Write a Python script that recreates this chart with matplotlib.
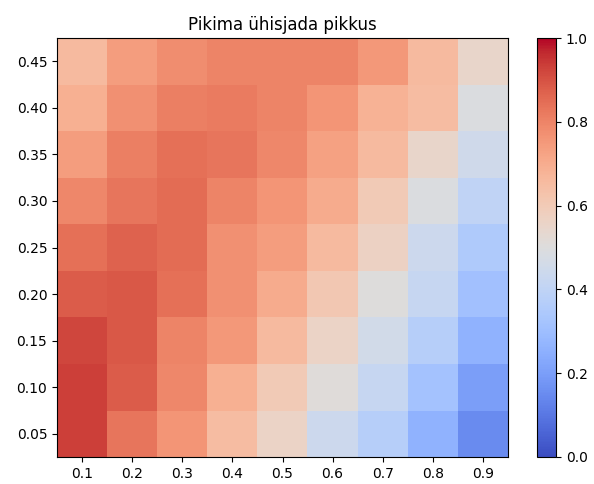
import numpy as np
import matplotlib
matplotlib.use("Agg")
import matplotlib.pyplot as plt

# x: first parameter, y: second parameter
x_values = [0.1, 0.2, 0.3, 0.4, 0.5, 0.6, 0.7, 0.8, 0.9]
y_values = [0.05, 0.10, 0.15, 0.20, 0.25, 0.30, 0.35, 0.40, 0.45]

# rows go from y=0.05 (bottom) to y=0.45 (top)
row_005 = [0.93, 0.83, 0.76, 0.65, 0.56, 0.44, 0.37, 0.26, 0.15]
row_010 = [0.93, 0.88, 0.79, 0.69, 0.60, 0.51, 0.42, 0.32, 0.20]
row_015 = [0.92, 0.89, 0.80, 0.75, 0.66, 0.56, 0.46, 0.37, 0.26]
row_020 = [0.88, 0.89, 0.84, 0.77, 0.70, 0.61, 0.50, 0.42, 0.31]
row_025 = [0.84, 0.87, 0.85, 0.77, 0.74, 0.66, 0.57, 0.44, 0.35]
row_030 = [0.79, 0.83, 0.85, 0.80, 0.76, 0.70, 0.60, 0.49, 0.40]
row_035 = [0.74, 0.81, 0.84, 0.83, 0.79, 0.73, 0.66, 0.55, 0.45]
row_040 = [0.69, 0.77, 0.81, 0.82, 0.80, 0.76, 0.68, 0.65, 0.49]
row_045 = [0.66, 0.74, 0.78, 0.80, 0.80, 0.80, 0.75, 0.66, 0.55]

grid = np.array([row_005, row_010, row_015, row_020, row_025,
                 row_030, row_035, row_040, row_045])

fig = plt.figure(figsize=(5.94, 4.84), dpi=100)
ax = fig.add_axes([57 / 594, 1 - 457 / 484, 451 / 594, 419 / 484])
cax = fig.add_axes([537 / 594, 1 - 457 / 484, 19 / 594, 419 / 484])

dx = 0.1
dy = 0.05
extent = [x_values[0] - dx / 2, x_values[-1] + dx / 2,
          y_values[0] - dy / 2, y_values[-1] + dy / 2]
im = ax.imshow(grid, cmap="coolwarm", vmin=0, vmax=1, origin="lower",
               extent=extent, aspect="auto", interpolation="nearest")

ax.set_xticks(x_values)
ax.set_xticklabels([f"{v:.1f}" for v in x_values])
ax.set_yticks(y_values)
ax.set_yticklabels([f"{v:.2f}" for v in y_values])
ax.set_title("Pikima ühisjada pikkus")

fig.colorbar(im, cax=cax)

fig.savefig("out.png", dpi=100)
